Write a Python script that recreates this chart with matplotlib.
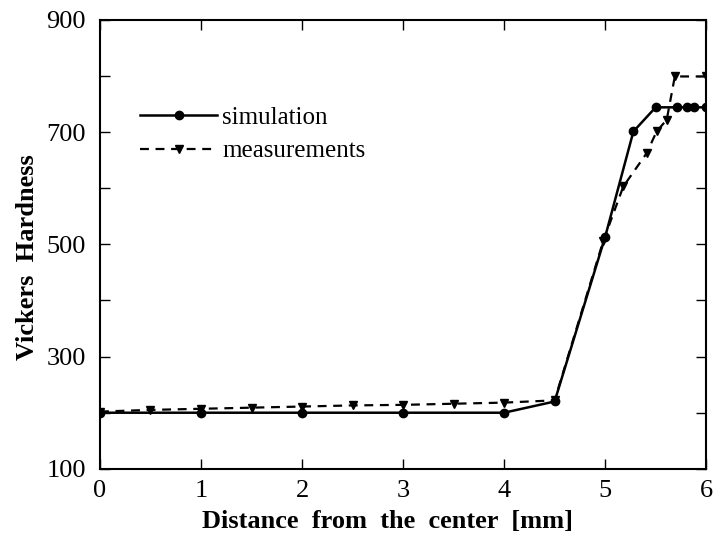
import matplotlib
matplotlib.use("Agg")
import matplotlib.pyplot as plt
from matplotlib.ticker import MultipleLocator

# ################### DATA ####################
sim_x = [0, 1, 2, 3, 4, 4.5, 5.0, 5.28, 5.5, 5.71, 5.81, 5.88, 6.0]
sim_y = [200, 200, 200, 200, 200, 220, 513, 701, 744, 744, 744, 744, 744]

meas_x = [0, 0.5, 1.0, 1.5, 2.0, 2.5, 3.0, 3.5, 4.0, 4.5, 4.98, 5.18, 5.41, 5.51, 5.61, 5.69, 6.0]
meas_y = [202, 205, 207, 209, 211, 213, 214, 216, 218, 222, 505, 603, 662, 701, 722, 799, 799]

x_ticks = [0, 1, 2, 3, 4, 5, 6]
y_ticks = [100, 300, 500, 700, 900]

# ################### PLOT ####################
plt.rcParams['font.family'] = ['Liberation Serif', 'DejaVu Serif']

fig = plt.figure(figsize=(7.14, 5.34), dpi=100)
ax = fig.add_axes([0.140, 0.122, 0.849, 0.841])

ax.plot(sim_x, sim_y, '-', color='black', lw=1.8, marker='o', ms=6,
        label='simulation')
ax.plot(meas_x, meas_y, '--', color='black', lw=1.6, marker='v', ms=6,
        dashes=(4, 3), label='measurements')

ax.set_xlim(0, 6)
ax.set_ylim(100, 900)
ax.set_xticks(x_ticks)
ax.set_yticks(y_ticks)
ax.yaxis.set_minor_locator(MultipleLocator(100))
ax.tick_params(which='both', direction='in', top=True, right=True,
               labelsize=19, length=7, width=1)
ax.tick_params(axis='y', pad=10)
ax.tick_params(axis='x', pad=8)
ax.tick_params(which='minor', length=7)
for s in ax.spines.values():
    s.set_linewidth(1.5)

ax.set_xlabel('Distance  from  the  center  [mm]', fontsize=19,
              fontweight='bold')
ax.set_ylabel('Vickers  Hardness', fontsize=19, fontweight='bold')
ax.xaxis.set_label_coords(0.474, -0.092)
ax.yaxis.set_label_coords(-0.101, 0.472)

leg = ax.legend(loc='center left', bbox_to_anchor=(0.066, 0.745), frameon=False,
                fontsize=18, handlelength=3.1, handletextpad=0.2,
                labelspacing=0.45, borderaxespad=0, borderpad=0)

fig.savefig("out.png", dpi=100)
